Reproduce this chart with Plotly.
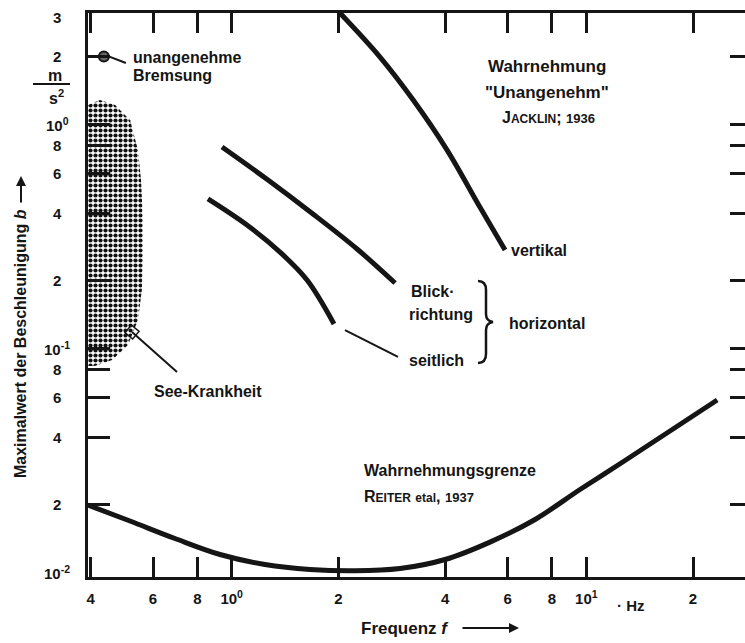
import numpy as np
import plotly.graph_objects as go

# ---------------- data ----------------
# Wahrnehmungsgrenze (Reiter et al. 1937)
thr_f = [0.393, 0.5166, 0.692, 0.927, 1.241, 1.663, 2.227, 2.983, 3.996, 5.35, 7.17, 9.60, 12.86, 17.22, 23.4]
thr_a = [0.0199, 0.01689, 0.01411, 0.01197, 0.0108, 0.01026, 0.01012, 0.01036, 0.01137, 0.0136, 0.01716,
         0.02335, 0.03147, 0.04262, 0.0586]
# "Unangenehm" vertikal (Jacklin 1936)
vert_f = [2.02, 2.62, 3.25, 4.05, 5.01, 5.90]
vert_a = [3.13, 1.99, 1.28, 0.765, 0.426, 0.274]
# horizontal, Blickrichtung
blick_f = [0.939, 1.266, 1.695, 2.257, 2.888]
blick_a = [0.789, 0.5623, 0.3965, 0.2767, 0.195]
# horizontal, seitlich
seit_f = [0.857, 1.104, 1.368, 1.631, 1.943]
seit_a = [0.463, 0.354, 0.268, 0.201, 0.128]
# See-Krankheit region
blob_f = [0.393, 0.425, 0.469, 0.517, 0.544, 0.555, 0.562, 0.562, 0.558, 0.544, 0.510, 0.460, 0.411, 0.393]
blob_a = [1.216, 1.28, 1.216, 1.04, 0.765, 0.562, 0.373, 0.247, 0.1815, 0.1334, 0.1031, 0.0884, 0.0831, 0.0831]
# unangenehme Bremsung point
brems_f = [0.436]
brems_a = [2.0]
# leader lines
lead_brems_f = [0.448, 0.503]
lead_brems_a = [2.01, 1.872]
lead_see_f = [0.5234, 0.701]
lead_see_a = [0.1179, 0.0781]
lead_seit_f = [2.087, 2.944]
lead_seit_a = [0.1203, 0.0912]

# axis ticks
x_tickvals = [0.4, 0.6, 0.8, 1, 2, 4, 6, 8, 10, 20]
x_ticktext = ["4", "6", "8", "10<sup>0</sup>", "2", "4", "6", "8", "10<sup>1</sup>", "2"]
y_tickvals = [0.02, 0.04, 0.06, 0.08, 0.1, 0.2, 0.4, 0.6, 0.8, 1, 2]
y_labvals = [0.01, 0.02, 0.04, 0.06, 0.08, 0.1, 0.2, 0.4, 0.6, 0.8, 1, 2, 3]
y_labtext = ["10<sup>-2</sup>", "2", "4", "6", "8", "10<sup>-1</sup>", "2", "4", "6", "8", "10<sup>0</sup>", "2", "3"]

X_RANGE = [-0.40525, 1.44755]
Y_RANGE = [-2.0223, 0.49554]

W, H = 745, 643
ML, MR, MT, MB = 88, 0, 13, 66
PW, PH = W - ML - MR, H - MT - MB

FONT = "Liberation Sans, Arial, DejaVu Sans, sans-serif"
INK = "#151515"


def px(x):
    return (x - ML) / PW


def py(y):
    return (H - MB - y) / PH


fig = go.Figure()

# sea-sickness stippled region
fig.add_trace(go.Scatter(
    x=blob_f, y=blob_a, mode="lines", fill="toself",
    line=dict(width=0, color="rgba(0,0,0,0)"),
    fillcolor="white",
    fillpattern=dict(shape=".", size=5, solidity=0.55, fgcolor="#111", bgcolor="white", fillmode="replace"),
    hoverinfo="skip", showlegend=False))

for fx, fy in [(thr_f, thr_a), (vert_f, vert_a), (blick_f, blick_a), (seit_f, seit_a)]:
    fig.add_trace(go.Scatter(x=fx, y=fy, mode="lines",
                             line=dict(color=INK, width=5, shape="spline", smoothing=1.0),
                             hoverinfo="skip", showlegend=False))

for fx, fy in [(lead_brems_f, lead_brems_a), (lead_see_f, lead_see_a), (lead_seit_f, lead_seit_a)]:
    fig.add_trace(go.Scatter(x=fx, y=fy, mode="lines", line=dict(color=INK, width=2),
                             hoverinfo="skip", showlegend=False))

# unangenehme Bremsung marker
fig.add_trace(go.Scatter(x=brems_f, y=brems_a, mode="markers",
                         marker=dict(symbol="circle", size=10, color="#666", line=dict(color=INK, width=2)),
                         hoverinfo="skip", showlegend=False))
# See-Krankheit small box
fig.add_trace(go.Scatter(x=[lead_see_f[0]], y=[lead_see_a[0]], mode="markers",
                         marker=dict(symbol="square-open", size=10, angle=40, color=INK, line=dict(width=1.5)),
                         hoverinfo="skip", showlegend=False))

# dummy trace for right-hand tick axis
fig.add_trace(go.Scatter(x=[1], y=[1], yaxis="y2", mode="markers", marker=dict(opacity=0),
                         hoverinfo="skip", showlegend=False))

ann = []
# y tick labels
for v, t in zip(y_labvals, y_labtext):
    ann.append(dict(x=px(57), xref="paper", y=np.log10(v), yref="y", text=t, showarrow=False,
                    xanchor="center", yanchor="middle", font=dict(size=15, family=FONT, color=INK, weight="bold")))


def txt(x, y, t, size=16, anchor="left", angle=0):
    ann.append(dict(x=px(x), y=py(y), xref="paper", yref="paper", text=t, showarrow=False, textangle=angle,
                    xanchor=anchor, yanchor="middle", font=dict(size=size, family=FONT, color=INK, weight="bold")))


# unit m/s^2
txt(55, 75, "m", 16, "center")
txt(56, 97, "s<sup>2</sup>", 16, "center")

txt(131, 57, "unangenehme", 16)
txt(131, 75, "Bremsung", 16)
txt(547, 67, "Wahrnehmung", 17, "center")
txt(547, 93, "\"Unangenehm\"", 17, "center")
txt(548, 117, "J<span style='font-size:12px'>ACKLIN</span>; <span style='font-size:13px'>1936</span>", 16, "center")
txt(509, 250, "vertikal", 16)
txt(409, 291, "Blick·", 16)
txt(407, 315, "richtung", 16)
txt(507, 323, "horizontal", 16)
txt(407, 360, "seitlich", 16)
txt(152, 391, "See-Krankheit", 16)
txt(362, 470, "Wahrnehmungsgrenze", 16)
txt(362, 496, "R<span style='font-size:12px'>EITER</span> <span style='font-size:12px'>etal</span>, <span style='font-size:13px'>1937</span>", 16)
txt(615, 605, "· Hz", 15)

# axis titles
txt(405, 628, "Frequenz <i>f</i>", 17, "center")
ann.append(dict(x=px(519), y=py(628), xref="paper", yref="paper", ax=-58, ay=0, text="", showarrow=True,
                arrowhead=2, arrowsize=1, arrowwidth=2, arrowcolor=INK))
txt(20, 344, "Maximalwert der Beschleunigung <i>b</i>", 16, "center", -90)
ann.append(dict(x=px(21), y=py(176), xref="paper", yref="paper", ax=0, ay=28, text="", showarrow=True,
                arrowhead=2, arrowsize=1, arrowwidth=2, arrowcolor=INK))

shapes = [
    # fraction bar of the unit
    dict(type="line", xref="paper", yref="paper", x0=px(33), x1=px(70), y0=py(84), y1=py(84),
         line=dict(color=INK, width=2)),
    # brace
    dict(type="path", xref="paper", yref="paper",
         path=("M {a},{b} Q {c},{b} {c},{d} L {c},{e} Q {c},{f} {g},{h} Q {c},{i} {c},{j} L {c},{k} Q {c},{l} {a},{l}"
               .format(a=px(478), b=py(281), c=px(486), d=py(290), e=py(314), f=py(321), g=px(493), h=py(322),
                       i=py(323), j=py(330), k=py(354), l=py(363))),
         line=dict(color=INK, width=2.5)),
]

fig.update_layout(
    width=W, height=H,
    margin=dict(l=ML, r=MR, t=MT, b=MB),
    paper_bgcolor="white", plot_bgcolor="white",
    showlegend=False,
    annotations=ann, shapes=shapes,
    xaxis=dict(type="log", range=X_RANGE, showgrid=False, zeroline=False,
               showline=True, linewidth=3, linecolor=INK, mirror="ticks",
               ticks="inside", ticklen=20, tickwidth=2.5, tickcolor=INK,
               tickvals=x_tickvals, ticktext=x_ticktext, ticklabelstandoff=6,
               tickfont=dict(size=15, family=FONT, color=INK, weight="bold")),
    yaxis=dict(type="log", range=Y_RANGE, showgrid=False, zeroline=False,
               showline=True, linewidth=3, linecolor=INK, mirror=False,
               ticks="inside", ticklen=22, tickwidth=2.5, tickcolor=INK,
               tickvals=y_tickvals, showticklabels=False),
    yaxis2=dict(type="log", range=Y_RANGE, overlaying="y", side="right", showgrid=False, zeroline=False,
                showline=False, ticks="inside", ticklen=15, tickwidth=2.5, tickcolor=INK,
                tickvals=y_tickvals, showticklabels=False),
)

fig.write_html("out.html", config={"displayModeBar": False},
               post_script="document.body.style.margin='0px';document.body.style.padding='0px';")
